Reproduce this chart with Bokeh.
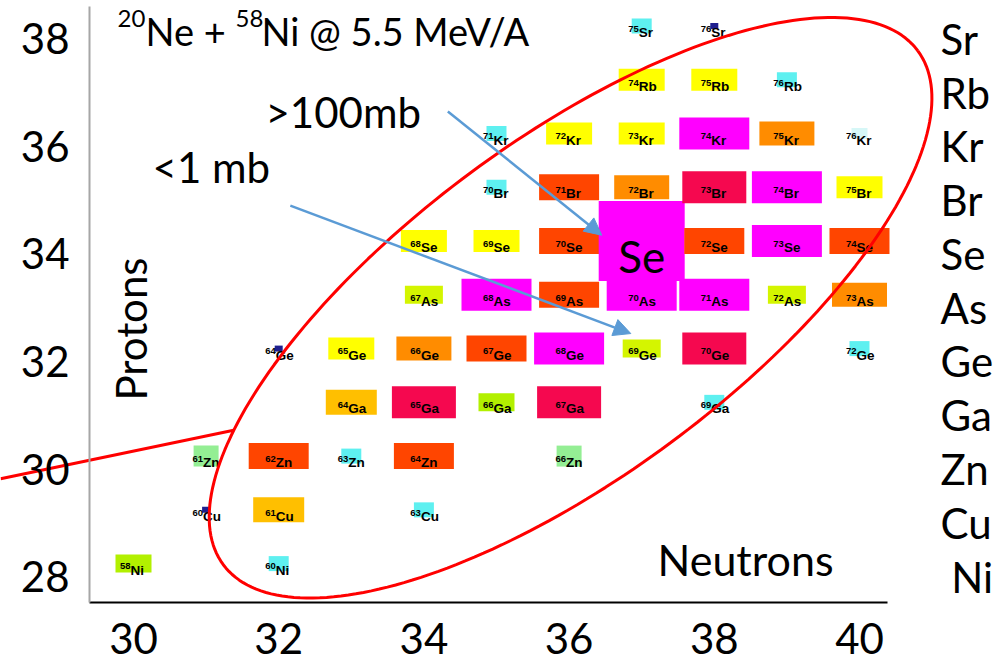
import math
from bokeh.plotting import figure
from bokeh.models import (ColumnDataSource, LinearAxis, FixedTicker, Label, Arrow,
                          NormalHead)
from bokeh.core.properties import value
from bokeh.embed import file_html
from bokeh.resources import INLINE

# ---------------- data ----------------
# element symbols for proton numbers 28..38
proton_numbers = [28, 29, 30, 31, 32, 33, 34, 35, 36, 37, 38]
element_symbols = ["Ni", "Cu", "Zn", "Ga", "Ge", "As", "Se", "Br", "Kr", "Rb", "Sr"]

# observed nuclides: neutron number, proton number, cross-section class (colour)
nuclide_n = [30, 32,
             31, 32, 34,
             31, 32, 33, 34, 36,
             33, 34, 35, 36, 38,
             32, 33, 34, 35, 36, 37, 38, 40,
             34, 35, 36, 37, 38, 39, 40,
             34, 35, 36, 37, 38, 39, 40,
             35, 36, 37, 38, 39, 40,
             35, 36, 37, 38, 39, 40,
             37, 38, 39,
             37, 38]
nuclide_z = [28, 28,
             29, 29, 29,
             30, 30, 30, 30, 30,
             31, 31, 31, 31, 31,
             32, 32, 32, 32, 32, 32, 32, 32,
             33, 33, 33, 33, 33, 33, 33,
             34, 34, 34, 34, 34, 34, 34,
             35, 35, 35, 35, 35, 35,
             36, 36, 36, 36, 36, 36,
             37, 37, 37,
             38, 38]
nuclide_class = ["lime", "cyan",
                 "navy", "gold", "cyan",
                 "lgreen", "redorange", "cyan", "redorange", "lgreen",
                 "gold", "crimson", "lime", "crimson", "cyan",
                 "navy", "yellow", "orange", "redorange", "magenta", "ygreen", "crimson", "cyan",
                 "ygreen", "magenta", "redorange", "magenta", "magenta", "ygreen", "orange",
                 "yellow", "yellow", "redorange", "big", "redorange", "magenta", "redorange",
                 "cyan", "redorange", "orange", "crimson", "magenta", "yellow",
                 "cyan", "yellow", "yellow", "magenta", "orange", "pale",
                 "yellow", "yellow", "cyan",
                 "cyan", "navy"]

x_ticks = [30, 32, 34, 36, 38, 40]
y_ticks = [28, 30, 32, 34, 36, 38]

# ---------------- styles ----------------
class_style = {  # colour, box width px, box height px
    "navy": ("#1F1F8F", 8, 6),
    "pale": ("#D6F7F7", 16, 11),
    "cyan": ("#5EF0F0", 20, 15),
    "lgreen": ("#94EE94", 25, 21),
    "lime": ("#B2F000", 36, 18),
    "ygreen": ("#D4F500", 38, 18),
    "yellow": ("#FFFF00", 46, 22),
    "gold": ("#FFBF00", 51, 25),
    "orange": ("#FF8C00", 55, 24),
    "redorange": ("#FF4500", 60, 26),
    "crimson": ("#F5084F", 64, 32),
    "magenta": ("#FF00FF", 70, 32),
    "big": ("#FF00FF", 86, 80),
}
BOX_LIFT = 0.24
SYM_BASE_LIFT = 0.12
SUP_BASE_LIFT = 0.19
BLUE = "#5B9BD5"
BIG_FONT = "Lato"
SMALL_FONT = "Liberation Sans"

W, H = 1001, 664
# full-canvas frame; axes are pinned inside it
x0, x1 = 28.168, 41.956
y0, y1 = 26.363, 38.716
AX_LEFT, AX_RIGHT = 29.394, 40.386
AX_BOTTOM, AX_TOP = 27.516, 38.605
px_per_n = W / (x1 - x0)
px_per_z = H / (y1 - y0)

sym_of = dict(zip(proton_numbers, element_symbols))

box = dict(x=[], y=[], w=[], h=[], c=[])
lab = dict(x=[], ys=[], yp=[], sym=[], mass=[])
big = dict(x=[], y=[], sym=[])
for n, z, k in zip(nuclide_n, nuclide_z, nuclide_class):
    col, bw, bh = class_style[k]
    box["x"].append(n)
    box["y"].append(z + BOX_LIFT)
    box["w"].append(bw)
    box["h"].append(bh)
    box["c"].append(col)
    if k == "big":
        big["x"].append(n)
        big["y"].append(z - 0.03)
        big["sym"].append(sym_of[z])
    else:
        lab["x"].append(n)
        lab["ys"].append(z + SYM_BASE_LIFT)
        lab["yp"].append(z + SUP_BASE_LIFT)
        lab["sym"].append(sym_of[z])
        lab["mass"].append(str(n + z))

p = figure(width=W, height=H, x_range=(x0, x1), y_range=(y0, y1),
           output_backend="svg", toolbar_location=None, title=None,
           min_border=0, min_border_left=0, min_border_right=0,
           min_border_top=0, min_border_bottom=0)
p.outline_line_color = None
p.grid.visible = False
p.background_fill_color = "white"
p.border_fill_color = "white"


def style_axis(ax):
    ax.major_tick_out = 0
    ax.major_tick_in = 0
    ax.minor_tick_out = 0
    ax.minor_tick_in = 0
    ax.major_label_text_font = BIG_FONT
    ax.major_label_text_font_size = "42px"
    ax.major_label_text_color = "black"


xa, ya = p.xaxis[0], p.yaxis[0]
style_axis(xa)
style_axis(ya)
xa.ticker = FixedTicker(ticks=x_ticks)
ya.ticker = FixedTicker(ticks=y_ticks)
xa.fixed_location = AX_BOTTOM
xa.bounds = (AX_LEFT, AX_RIGHT)
xa.axis_line_color = "black"
xa.axis_line_width = 2
xa.major_label_standoff = 20
ya.fixed_location = AX_LEFT
ya.bounds = (AX_BOTTOM, AX_TOP)
ya.axis_line_color = "#A6A6A6"
ya.axis_line_width = 2
ya.major_label_standoff = 20

raxis = LinearAxis(ticker=FixedTicker(ticks=proton_numbers),
                   major_label_overrides={z: (s if s != "Ni" else "\u00a0Ni")
                                          for z, s in zip(proton_numbers, element_symbols)})
style_axis(raxis)
raxis.axis_line_color = None
raxis.fixed_location = AX_RIGHT
raxis.major_label_standoff = 53
p.add_layout(raxis, "right")

p.rect(x="x", y="y", width="w", height="h", width_units="screen", height_units="screen",
       fill_color="c", line_color=None, source=ColumnDataSource(box))

lsrc = ColumnDataSource(lab)
p.text(x="x", y="ys", text="sym", source=lsrc, x_offset=-3,
       text_font=value(SMALL_FONT), text_font_size=value("13.5px"),
       text_font_style=value("bold"), text_align=value("left"),
       text_baseline=value("alphabetic"), text_color="black")
p.text(x="x", y="yp", text="mass", source=lsrc, x_offset=-3,
       text_font=value(SMALL_FONT), text_font_size=value("9.5px"),
       text_font_style=value("bold"), text_align=value("right"),
       text_baseline=value("alphabetic"), text_color="black")
p.text(x="x", y="y", text="sym", source=ColumnDataSource(big),
       text_font=value(BIG_FONT), text_font_size=value("44px"),
       text_align=value("center"), text_baseline=value("alphabetic"), text_color="black")

# red ellipse around the strongly populated region
ecx, ecy = 36.02, 33.0
ea, eb, eang = 432.0, 168.0, math.radians(36.5)
exs, eys = [], []
for i in range(241):
    t = 2 * math.pi * i / 240
    dx = ea * math.cos(t) * math.cos(eang) - eb * math.sin(t) * math.sin(eang)
    dy = ea * math.cos(t) * math.sin(eang) + eb * math.sin(t) * math.cos(eang)
    exs.append(ecx + dx / px_per_n)
    eys.append(ecy + dy / px_per_z)
p.line(exs, eys, line_color="red", line_width=3)
p.line([28.17, 31.38], [29.82, 30.72], line_color="red", line_width=3)

# arrows
for xs_, ys_, xe_, ye_ in [(34.33, 36.65, 36.45, 34.35), (32.16, 34.90, 36.85, 32.52)]:
    p.add_layout(Arrow(end=NormalHead(size=17, fill_color=BLUE, line_color=BLUE),
                       x_start=xs_, y_start=ys_, x_end=xe_, y_end=ye_,
                       line_color=BLUE, line_width=2.5))


def add_label(x, y, text, size, angle=0.0):
    p.add_layout(Label(x=x, y=y, text=text, text_font=BIG_FONT, text_font_size=size,
                       text_color="black", text_align="left",
                       text_baseline="alphabetic", angle=angle))


add_label(29.78, 38.38, "20", "24px")
add_label(30.165, 38.156, "Ne + ", "38px")
add_label(31.405, 38.38, "58", "24px")
add_label(31.763, 38.156, "Ni @ 5.5 MeV/A", "38px")
add_label(31.818, 36.65, ">100mb", "42px")
add_label(30.262, 35.61, "<1 mb", "42px")
add_label(37.218, 28.314, "Neutrons", "43px")
add_label(29.972, 31.274, "Protons", "42px", angle=math.pi / 2)

open("out.html", "w").write(file_html(p, INLINE))
